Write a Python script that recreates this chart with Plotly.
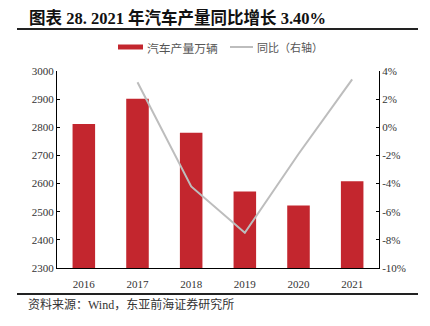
import plotly.graph_objects as go

years = ["2016", "2017", "2018", "2019", "2020", "2021"]
production = [2811.9, 2901.5, 2780.9, 2572.1, 2522.5, 2608.2]
yoy = [None, 3.2, -4.2, -7.5, -1.9, 3.4]
left_ticks = [2300, 2400, 2500, 2600, 2700, 2800, 2900, 3000]
right_ticks = [-10, -8, -6, -4, -2, 0, 2, 4]

W, H = 430, 326
L, R, T, B = 57, 379, 71, 268
pw, ph = R - L, B - T

def px(x):
    return (x - L) / pw

def py(y):
    return (B - y) / ph

SERIF = "Liberation Serif, Noto Sans CJK SC"
CJK = "Noto Sans CJK SC"

fig = go.Figure()
fig.add_trace(go.Bar(x=years, y=production, marker=dict(color="#C3262E", line=dict(width=0)),
                     width=0.42, yaxis="y", showlegend=False))
fig.add_trace(go.Scatter(x=years, y=yoy, mode="lines", line=dict(color="#BDBDBD", width=2),
                         yaxis="y2", showlegend=False, connectgaps=False))

fig.update_layout(
    width=W, height=H,
    margin=dict(l=L, r=W - R, t=T, b=H - B),
    paper_bgcolor="white", plot_bgcolor="white",
    bargap=0.5,
    xaxis=dict(type="category", showline=True, linecolor="#000", linewidth=1,
               ticks="", showgrid=False, tickfont=dict(family=SERIF, size=11, color="#333"),
               ticklabelstandoff=6),
    yaxis=dict(range=[2300, 3000], tickvals=left_ticks, showline=True, linecolor="#000", linewidth=1,
               ticks="inside", ticklen=3, tickcolor="#000", showgrid=False, zeroline=False,
               tickfont=dict(family=SERIF, size=11, color="#333")),
    yaxis2=dict(range=[-10, 4], tickvals=right_ticks, ticktext=[f"{v}%" for v in right_ticks],
                overlaying="y", side="right", showline=True, linecolor="#000", linewidth=1,
                ticks="inside", ticklen=3, tickcolor="#000", showgrid=False, zeroline=False,
                tickfont=dict(family=SERIF, size=11, color="#333")),
)

shapes = [
    dict(type="line", xref="paper", yref="paper", x0=px(17), x1=px(418), y0=py(29), y1=py(29),
         line=dict(color="#222", width=2)),
    dict(type="line", xref="paper", yref="paper", x0=px(17), x1=px(418), y0=py(294), y1=py(294),
         line=dict(color="#222", width=2)),
    dict(type="rect", xref="paper", yref="paper", x0=px(118), x1=px(143), y0=py(49.5), y1=py(44.5),
         fillcolor="#C3262E", line=dict(width=0)),
    dict(type="line", xref="paper", yref="paper", x0=px(230), x1=px(253), y0=py(47), y1=py(47),
         line=dict(color="#BDBDBD", width=2)),
]
fig.update_layout(shapes=shapes)

annotations = [
    dict(text="<b>图表 28. 2021 年汽车产量同比增长 3.40%</b>", xref="paper", yref="paper",
         x=px(27), y=py(18), xanchor="left", yanchor="middle", showarrow=False,
         font=dict(family=SERIF, size=16.5, color="#111")),
    dict(text="汽车产量万辆", xref="paper", yref="paper", x=px(145), y=py(47),
         xanchor="left", yanchor="middle", showarrow=False,
         font=dict(family=CJK, size=11.8, color="#555")),
    dict(text="同比（右轴）", xref="paper", yref="paper", x=px(255), y=py(47),
         xanchor="left", yanchor="middle", showarrow=False,
         font=dict(family=CJK, size=11, color="#555")),
    dict(text="资料来源：Wind，东亚前海证券研究所", xref="paper", yref="paper", x=px(26), y=py(304),
         xanchor="left", yanchor="middle", showarrow=False,
         font=dict(family=SERIF, size=12, color="#333")),
]
fig.update_layout(annotations=annotations)

fig.write_html("out.html")
